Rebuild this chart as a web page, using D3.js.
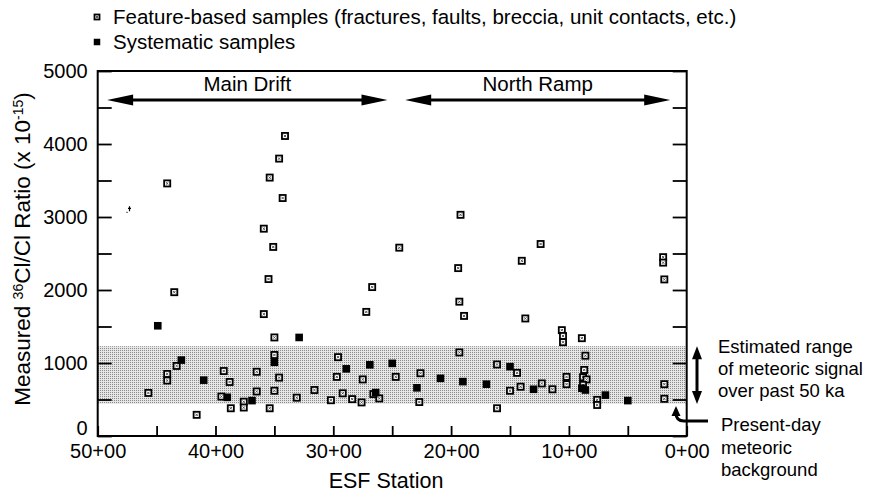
<!DOCTYPE html>
<html>
<head>
<meta charset="utf-8">
<script src="https://cdn.jsdelivr.net/npm/d3@7"></script>
<style>
  body { margin: 0; background: #fff; }
  svg { display: block; }
  text { font-family: "Liberation Sans", Arial, Helvetica, sans-serif; fill: #000; }
</style>
</head>
<body>
<svg id="chart" width="878" height="493"></svg>
<script>
// ESF station (hundreds of feet, 50+00 .. 0+00) and measured 36Cl/Cl (x 10^-15)
const stationTickValues = [50, 45, 40, 35, 30, 25, 20, 15, 10, 5, 0];
const stationLabelValues = [50, 40, 30, 20, 10, 0];
const ratioTickValues = [0, 500, 1000, 1500, 2000, 2500, 3000, 3500, 4000, 4500, 5000];
const ratioLabelValues = [0, 1000, 2000, 3000, 4000, 5000];

// Feature-based samples (fractures, faults, breccia, unit contacts, etc.)
const featureStation = [
  44.1, 43.5, 34.1, 34.6, 35.4, 34.3, 35.9, 35.1, 24.4, 35.5,
  26.7, 27.2, 35.9, 35.0, 35.0, 34.6, 35.0, 35.4, 43.3, 44.1,
  44.1, 45.7, 41.6, 39.3, 38.8, 39.5, 38.7, 37.6, 37.6, 36.5,
  36.5, 33.1, 31.6, 30.2, 29.6, 29.7, 29.2, 28.4, 27.6, 27.5,
  26.1, 26.6, 24.7, 22.6, 22.7, 19.3, 16.1, 16.1, 14.4, 15.0,
  14.1, 12.3, 11.4, 10.6, 10.5, 10.5, 10.2, 10.2, 8.9, 8.6,
  8.7, 8.8, 8.5, 8.8, 7.6, 7.6, 1.9, 1.9, 19.2, 19.4,
  19.3, 18.9, 12.4, 14.0, 13.7, 2.0, 2.0, 1.9
];
const featureRatio = [
  3460, 1970, 4110, 3800, 3540, 3260, 2840, 2590, 2580, 2150,
  2040, 1700, 1670, 1350, 1110, 800, 620, 380, 960, 850,
  760, 590, 290, 890, 740, 540, 380, 470, 390, 880,
  610, 525, 630, 490, 1080, 810, 585, 505, 460, 775,
  515, 575, 810, 860, 465, 1145, 980, 380, 865, 620,
  675, 720, 640, 1450, 1370, 1285, 810, 710, 1340, 1100,
  905, 805, 775, 700, 495, 425, 710, 510, 3030, 2300,
  1840, 1645, 2630, 2400, 1610, 2450, 2375, 2145
];

// Systematic samples
const systematicStation = [
  44.9, 32.9, 35.0, 42.9, 41.0, 39.0, 36.9, 28.9, 26.9, 26.4,
  25.0, 22.9, 20.9, 19.0, 17.0, 15.0, 13.0, 8.9, 8.6, 6.9, 5.0
];
const systematicRatio = [
  1510, 1350, 1010, 1040, 765, 530, 485, 920, 975, 595,
  995, 660, 790, 745, 710, 950, 640, 655, 630, 560, 485
];

// Partly printed symbol near station 47+30
const partialStation = [47.3];
const partialRatio = [3105];

// Estimated meteoric signal over the past 50 ka, and present-day background
const meteoricRange = [440, 1230];
const presentDayBackground = 440;

// Tunnel sections along the top
const sectionNames = ["Main Drift", "North Ramp"];
const sectionFrom = [49.2, 23.9];
const sectionTo = [25.4, 1.4];

const legendLabels = [
  "Feature-based samples (fractures, faults, breccia, unit contacts, etc.)",
  "Systematic samples"
];
const rangeNoteLines = ["Estimated range", "of meteoric signal", "over past 50 ka"];
const backgroundNoteLines = ["Present-day", "meteoric", "background"];

const svg = d3.select("#chart");
const plotLeft = 97.7, plotRight = 686.7, plotTop = 71, plotBottom = 436;

const x = d3.scaleLinear().domain([50, 0]).range([plotLeft, plotRight]);
const y = d3.scaleLinear().domain([0, 5000]).range([plotBottom, plotTop]);

// dotted fill for the meteoric band
const defs = svg.append("defs");
const pat = defs.append("pattern")
  .attr("id", "stipple").attr("patternUnits", "userSpaceOnUse")
  .attr("width", 2).attr("height", 2);
pat.append("rect").attr("width", 2).attr("height", 2).attr("fill", "#e6e6e6");
pat.append("rect").attr("width", 1).attr("height", 1).attr("fill", "#8a8a8a");

svg.append("rect")
  .attr("x", plotLeft).attr("width", plotRight - plotLeft)
  .attr("y", y(meteoricRange[1]))
  .attr("height", y(meteoricRange[0]) - y(meteoricRange[1]))
  .attr("fill", "url(#stipple)");

// axes (ticks point inward)
const fontTick = 20;
const gLeft = svg.append("g").attr("transform", `translate(${plotLeft},0)`)
  .call(d3.axisLeft(y).tickValues(ratioTickValues).tickSizeInner(-14).tickSizeOuter(0)
    .tickPadding(10).tickFormat(d => ratioLabelValues.includes(d) ? d : ""));
gLeft.selectAll("text").attr("font-size", fontTick)
  .attr("font-family", "Liberation Sans, Arial, sans-serif")
  .attr("dy", d => d === 0 ? "-0.1em" : "0.32em");

const gRight = svg.append("g").attr("transform", `translate(${plotRight},0)`)
  .call(d3.axisRight(y).tickValues(ratioTickValues).tickSizeInner(-14).tickSizeOuter(0)
    .tickFormat(""));

const gBottom = svg.append("g").attr("transform", `translate(0,${plotBottom})`)
  .call(d3.axisBottom(x).tickValues(stationTickValues).tickSizeInner(-10).tickSizeOuter(0)
    .tickPadding(8).tickFormat(d => stationLabelValues.includes(d) ? d + "+00" : ""));
gBottom.selectAll("text").attr("font-size", fontTick)
  .attr("font-family", "Liberation Sans, Arial, sans-serif");

[gLeft, gRight, gBottom].forEach(g => {
  g.select(".domain").remove();
  g.selectAll(".tick line").attr("stroke", "#000").attr("stroke-width", 1.8);
});

// frame
svg.append("rect")
  .attr("x", plotLeft).attr("y", plotTop)
  .attr("width", plotRight - plotLeft).attr("height", plotBottom - plotTop)
  .attr("fill", "none").attr("stroke", "#000").attr("stroke-width", 2);

// axis titles
svg.append("text")
  .attr("x", 386).attr("y", 488)
  .attr("text-anchor", "middle").attr("font-size", 21.5)
  .text("ESF Station");

const yTitle = svg.append("text")
  .attr("transform", "translate(30,249) rotate(-90)")
  .attr("text-anchor", "middle").attr("font-size", 22.5);
yTitle.append("tspan").text("Measured ");
yTitle.append("tspan").attr("font-size", 14).attr("baseline-shift", "7.5").text("36");
yTitle.append("tspan").text("Cl/Cl Ratio (x 10");
yTitle.append("tspan").attr("font-size", 14).attr("baseline-shift", "7.5").text("-15");
yTitle.append("tspan").text(")");

// markers
function openMarker(sel, s) {
  const h = s / 2;
  sel.append("rect").attr("x", -h).attr("y", -h).attr("width", s).attr("height", s)
    .attr("fill", "#fff").attr("stroke", "#000").attr("stroke-width", 1.8);
  sel.append("path").attr("d", `M${-h * 0.4},${-h * 0.4}L${h * 0.4},${h * 0.4}M${h * 0.4},${-h * 0.4}L${-h * 0.4},${h * 0.4}`)
    .attr("stroke", "#444").attr("stroke-width", 0.9);
}
function filledMarker(sel, s) {
  sel.append("rect").attr("x", -s / 2).attr("y", -s / 2).attr("width", s).attr("height", s)
    .attr("fill", "#000");
}

const features = featureStation.map((s, i) => ({ s, v: featureRatio[i] }));
const systematic = systematicStation.map((s, i) => ({ s, v: systematicRatio[i] }));

svg.append("g").selectAll("g").data(features).join("g")
  .attr("transform", d => `translate(${x(d.s)},${y(d.v)})`)
  .each(function () { openMarker(d3.select(this), 6.1); });

svg.append("g").selectAll("rect").data(systematic).join("rect")
  .attr("x", d => x(d.s) - 3.8).attr("y", d => y(d.v) - 3.8)
  .attr("width", 7.6).attr("height", 7.6).attr("fill", "#000");

svg.append("g").selectAll("path").data(partialStation.map((s, i) => ({ s, v: partialRatio[i] })))
  .join("path")
  .attr("transform", d => `translate(${x(d.s)},${y(d.v)})`)
  .attr("d", "M0,-3V2M-1.5,-1H1.5M-3,3H-2")
  .attr("stroke", "#000").attr("stroke-width", 1.2).attr("fill", "none");

// legend
legendLabels.forEach((label, i) => {
  const cy = 17 + i * 25;
  const g = svg.append("g").attr("transform", `translate(97,${cy})`);
  if (i === 0) openMarker(g, 5); else filledMarker(g, 6.5);
  svg.append("text").attr("x", 113).attr("y", cy).attr("dy", "0.35em")
    .attr("font-size", 20.5).text(label);
});

// section arrows across the top
function hArrow(x1, x2, yy) {
  const hl = 26, hw = 5.5;
  svg.append("line").attr("x1", x1 + hl - 2).attr("x2", x2 - hl + 2)
    .attr("y1", yy).attr("y2", yy).attr("stroke", "#000").attr("stroke-width", 3);
  svg.append("path").attr("d", `M${x1},${yy}L${x1 + hl},${yy - hw}L${x1 + hl},${yy + hw}Z`).attr("fill", "#000");
  svg.append("path").attr("d", `M${x2},${yy}L${x2 - hl},${yy - hw}L${x2 - hl},${yy + hw}Z`).attr("fill", "#000");
}
sectionNames.forEach((name, i) => {
  const x1 = x(sectionFrom[i]), x2 = x(sectionTo[i]);
  hArrow(x1, x2, 100);
  svg.append("text").attr("x", (x1 + x2) / 2).attr("y", 84).attr("dy", "0.35em")
    .attr("text-anchor", "middle").attr("font-size", 20.5).text(name);
});

// range double arrow at the right
const ax = 697, yTop = y(meteoricRange[1]), yBot = y(meteoricRange[0]);
svg.append("line").attr("x1", ax).attr("x2", ax).attr("y1", yTop + 10).attr("y2", yBot - 10)
  .attr("stroke", "#000").attr("stroke-width", 3);
svg.append("path").attr("d", `M${ax},${yTop}L${ax - 5},${yTop + 13}L${ax + 5},${yTop + 13}Z`).attr("fill", "#000");
svg.append("path").attr("d", `M${ax},${yBot}L${ax - 5},${yBot - 13}L${ax + 5},${yBot - 13}Z`).attr("fill", "#000");

rangeNoteLines.forEach((t, i) => {
  svg.append("text").attr("x", 718).attr("y", 347 + i * 22).attr("dy", "0.35em")
    .attr("font-size", 18.5).text(t);
});

// present-day background pointer
const by = y(presentDayBackground);
svg.append("path")
  .attr("d", `M708,421H684Q676,421 676,413V${by + 9}`)
  .attr("fill", "none").attr("stroke", "#000").attr("stroke-width", 3);
svg.append("path").attr("d", `M676,${by + 2}L671.5,${by + 12}L680.5,${by + 12}Z`).attr("fill", "#000");

backgroundNoteLines.forEach((t, i) => {
  svg.append("text").attr("x", 721).attr("y", 425 + i * 22.5).attr("dy", "0.35em")
    .attr("font-size", 18.5).text(t);
});
</script>
</body>
</html>
